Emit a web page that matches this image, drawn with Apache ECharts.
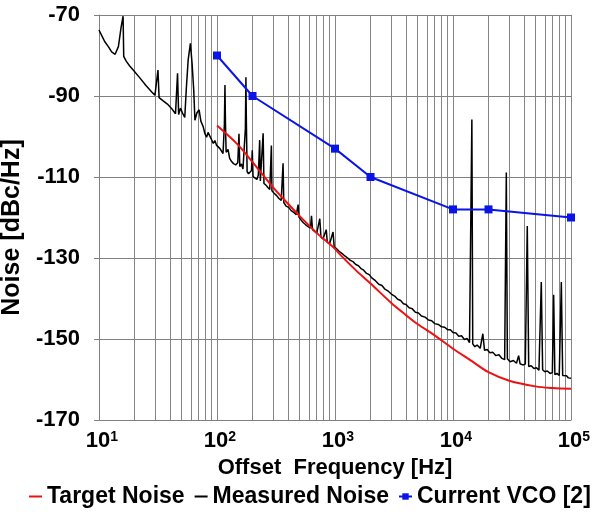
<!DOCTYPE html>
<html><head><meta charset="utf-8">
<script src="https://cdn.jsdelivr.net/npm/echarts@6/dist/echarts.min.js"></script>
<style>html,body{margin:0;padding:0;background:#fff}#c{width:596px;height:515px}</style>
</head><body><div id="c"></div>
<script>
// Axis tick values
const xLabelValues = [10, 100, 1000, 10000, 100000];
const xGridValues = [10,20,30,40,50,60,70,80,90,100,200,300,400,500,600,700,800,900,1000,2000,3000,4000,5000,6000,7000,8000,9000,10000,20000,30000,40000,50000,60000,70000,80000,90000,100000];
const yTickValues = [-170, -150, -130, -110, -90, -70];

// Series: [offset frequency Hz, dBc/Hz]
const currentVco = [[100,-80],[200,-90],[1000,-103],[2000,-110],[10000,-118],[20000,-118],[100000,-120]];

const targetNoise = [[100,-97.3],[150,-102],[200,-106.3],[300,-112.6],[400,-116.6],[500,-119.6],[700,-123.8],[1000,-127.7],[1100,-129.1],[1500,-133],[2000,-136.3],[3000,-141.1],[4000,-144.1],[5000,-146.3],[7000,-149.1],[10000,-152.4],[14000,-155.2],[20000,-158.2],[30000,-160.3],[50000,-161.7],[70000,-162.1],[100000,-162.3]];

const measuredNoise = [[10,-73.7],[10.6,-75.2],[11.2,-76.6],[12.0,-77.8],[12.8,-79.1],[13.7,-79.7],[14.6,-77.8],[15.4,-73],[16.0,-70.3],[16.2,-80.2],[17.0,-81.4],[18.2,-82.6],[19.5,-83.6],[22,-85.4],[25,-87.4],[28,-89],[29.8,-89.8],[30.6,-90.2],[31.6,-83.6],[32.3,-90.4],[35,-91.2],[38,-92],[41,-93],[44.5,-94.4],[46.3,-84.4],[47.3,-94.6],[49,-93],[51,-94.2],[53.3,-95.3],[55,-88],[57,-81],[59.5,-77],[61.5,-82],[63.5,-88.5],[65,-96],[67.5,-94.2],[70.5,-93.4],[73,-96.2],[76.4,-97.6],[79,-99.3],[81.6,-100.2],[84,-99],[87,-99.4],[90,-100.8],[93,-101.7],[96,-101],[99.3,-102.2],[103,-102.5],[106,-103],[109,-102.7],[112.5,-104.2],[115.5,-97],[116.8,-87.3],[118,-97],[119.5,-103.9],[124,-103.2],[128,-105.4],[133,-106.2],[138,-106.7],[144,-107],[150,-106.5],[153.5,-99.3],[156,-107.4],[161,-106.8],[166,-108],[170,-107.6],[174,-98],[175.8,-85.4],[177.5,-97],[180,-108.7],[185,-109.2],[190,-109.6],[196,-108.4],[199,-103.4],[202,-109.9],[210,-110.2],[218,-110.6],[224,-109.5],[230,-100.9],[233,-111],[240,-111.4],[246,-99.2],[250,-111.6],[260,-112],[270,-112.6],[280,-113.1],[289,-102.2],[292,-113.4],[305,-114],[320,-114.6],[335,-115.3],[350,-115.8],[363,-106.6],[368,-116.3],[385,-117.2],[405,-117.5],[425,-118.3],[450,-118.8],[470,-119.3],[487,-116.8],[495,-119.9],[515,-120.6],[540,-121.3],[565,-121.8],[595,-122.3],[620,-122.6],[632,-119.6],[645,-123],[670,-123.4],[700,-123.9],[725,-124.1],[743,-120.3],[760,-124.8],[790,-125.3],[820,-125.6],[843,-123],[860,-126.1],[900,-126.5],[935,-126.8],[962,-123.6],[985,-127.3],[1030,-127.7],[1099,-128.5],[1150,-128.9],[1211,-129.5],[1280,-130],[1350,-130.6],[1420,-130.9],[1500,-131.6],[1580,-131.9],[1660,-132.6],[1750,-133],[1850,-133.8],[1950,-134.1],[2050,-134.9],[2200,-135.6],[2350,-136.5],[2500,-136.8],[2650,-137.7],[2800,-138.1],[3000,-138.9],[3200,-139.4],[3400,-140.2],[3600,-140.5],[3800,-141.3],[4000,-141.5],[4250,-142.3],[4500,-142.5],[4800,-143.4],[5100,-143.6],[5400,-144.3],[5800,-144.6],[6200,-145.3],[6600,-145.5],[7000,-146.2],[7500,-146.4],[8000,-147],[8500,-147.1],[9000,-147.7],[9500,-147.7],[10000,-148.4],[10600,-148.5],[11200,-149.3],[11800,-149.2],[12500,-150.1],[13200,-149.9],[13800,-150.9],[14200,-150.8],[14450,-95.8],[14700,-151.2],[15300,-151.9],[16000,-151.5],[17000,-152.3],[17900,-148.7],[18500,-152.8],[19500,-152.6],[20500,-153.4],[21800,-153.3],[23000,-154.1],[24500,-153.9],[26000,-154.8],[27400,-155.1],[28300,-108.9],[28900,-154.9],[30500,-155.6],[32500,-155.3],[34500,-156],[36000,-154.1],[37000,-156.1],[39000,-156.4],[41000,-156.2],[42600,-122.1],[43800,-156.8],[46000,-156.6],[48500,-157.3],[51000,-157.1],[53500,-157.7],[56000,-135.9],[57500,-157.6],[60000,-158.1],[63000,-157.9],[66500,-158.5],[69500,-158.3],[71300,-139.1],[73000,-158.8],[76000,-158.5],[79500,-159],[82800,-135.9],[85000,-159],[88000,-159.3],[91500,-159.1],[95000,-159.6],[100000,-159.7]];

const FONT = '"Liberation Sans", Arial, sans-serif';
const chart = echarts.init(document.getElementById('c'), null, {renderer: 'canvas'});
chart.setOption({
  animation: false,
  backgroundColor: '#ffffff',
  grid: {left: 99, top: 15, right: 25, bottom: 95, containLabel: false, outerBoundsMode: 'none'},
  xAxis: {
    type: 'log', logBase: 10, min: 10, max: 100000,
    name: 'Offset  Frequency [Hz]', nameLocation: 'middle', nameGap: 34,
    nameTextStyle: {fontFamily: FONT, fontWeight: 'bold', fontSize: 22, color: '#000'},
    axisLine: {show: true, lineStyle: {color: '#808080', width: 1}},
    axisTick: {show: false, customValues: xGridValues},
    axisLabel: {
      customValues: xLabelValues, margin: 10,
      formatter: v => '{b|10}{s|' + Math.round(Math.log10(v)) + '}',
      rich: {
        b: {fontFamily: FONT, fontWeight: 'bold', fontSize: 22, color: '#000', lineHeight: 22, padding: [0, 0, 0, 6]},
        s: {fontFamily: FONT, fontWeight: 'bold', fontSize: 14, color: '#000', lineHeight: 12, verticalAlign: 'top'}
      }
    },
    splitLine: {show: true, lineStyle: {color: '#858585', width: 1}},
    minorTick: {show: false}, minorSplitLine: {show: false}
  },
  yAxis: {
    type: 'value', min: -170, max: -70,
    name: 'Noise [dBc/Hz]', nameLocation: 'middle', nameGap: 65, nameRotate: 90,
    nameTextStyle: {fontFamily: FONT, fontWeight: 'bold', fontSize: 25, color: '#000', padding: [0, 20, 0, 0]},
    axisLine: {show: true, lineStyle: {color: '#808080', width: 1}},
    axisTick: {show: true, inside: false, length: 5, customValues: yTickValues, lineStyle: {color: '#808080'}},
    axisLabel: {customValues: yTickValues, margin: 19, fontFamily: FONT, fontWeight: 'bold', fontSize: 22, color: '#000'},
    splitLine: {show: true, lineStyle: {color: '#808080', width: 1}}
  },
  legend: {
    show: true, orient: 'horizontal', left: 28, top: 485, padding: 0,
    itemWidth: 13, itemHeight: 8, itemGap: 9,
    textStyle: {fontFamily: FONT, fontWeight: 'bold', fontSize: 23, color: '#000'},
    data: [
      {name: 'Target Noise', itemStyle: {opacity: 0}},
      {name: 'Measured Noise', itemStyle: {opacity: 0}},
      {name: 'Current VCO [2]'}
    ]
  },
  series: [
    {name: 'Measured Noise', type: 'line', data: measuredNoise, showSymbol: false, symbol: 'none',
     lineStyle: {color: '#000000', width: 1.5}, itemStyle: {color: '#000000'}, z: 2},
    {name: 'Target Noise', type: 'line', data: targetNoise, showSymbol: false, symbol: 'none', smooth: 0.3,
     lineStyle: {color: '#ee1111', width: 2}, itemStyle: {color: '#ee1111'}, z: 3},
    {name: 'Current VCO [2]', type: 'line', data: currentVco, symbol: 'rect', symbolSize: 8,
     lineStyle: {color: '#0a14e6', width: 2}, itemStyle: {color: '#0a14e6'}, z: 4}
  ]
});
</script></body></html>
